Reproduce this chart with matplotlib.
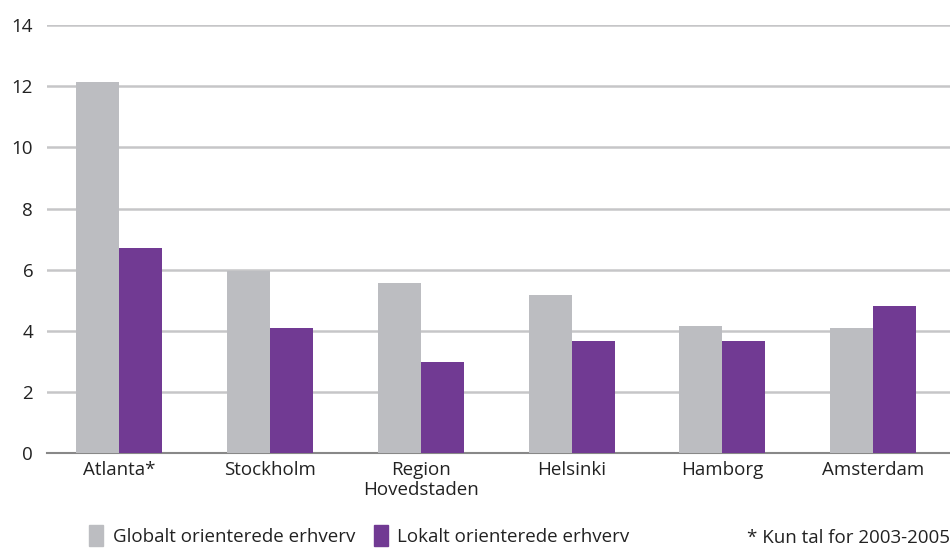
import matplotlib.pyplot as plt
from matplotlib.patches import Patch
import numpy as np

plt.rcParams['font.family'] = ['Open Sans', 'DejaVu Sans']

cities = ["Atlanta*", "Stockholm", "Region\nHovedstaden", "Helsinki", "Hamborg", "Amsterdam"]
globalt = [12.15, 5.97, 5.57, 5.18, 4.15, 4.1]
lokalt = [6.72, 4.1, 2.98, 3.67, 3.67, 4.82]
yticks = [0, 2, 4, 6, 8, 10, 12, 14]

grey = "#bcbdc1"
purple = "#713a93"
fs = 13.5

fig = plt.figure(figsize=(9.5, 5.48), dpi=100)
ax = fig.add_axes([0.0495, 0.1734, 0.9505, 0.7806])

x = np.arange(len(cities))
w = 0.285
ax.bar(x - w / 2, globalt, w, color=grey, zorder=3)
ax.bar(x + w / 2, lokalt, w, color=purple, zorder=3)

ax.set_ylim(0, 14)
ax.set_xlim(-0.48, 5.51)
ax.set_yticks(yticks)
ax.set_xticks(x)
ax.set_xticklabels(cities, fontsize=fs, color="#222222", linespacing=1.15)
ax.tick_params(axis="y", length=0, pad=10, labelsize=fs, labelcolor="#222222")
ax.tick_params(axis="x", length=0, pad=6)
ax.grid(axis="y", color="#c6c6c8", linewidth=1.8, zorder=0)
for s in ["top", "right", "left"]:
    ax.spines[s].set_visible(False)
ax.spines["bottom"].set_color("#888888")
ax.spines["bottom"].set_linewidth(1.5)

handles = [Patch(color=grey, label="Globalt orienterede erhverv"),
           Patch(color=purple, label="Lokalt orienterede erhverv")]
fig.legend(handles=handles, loc="lower left", bbox_to_anchor=(0.076, -0.027), ncol=2,
           frameon=False, fontsize=fs, handlelength=0.75, handleheight=1.3,
           handletextpad=0.5, columnspacing=1.0, labelcolor="#222222")
fig.text(0.9995, 0.002, "* Kun tal for 2003-2005", ha="right", va="bottom",
         fontsize=fs, color="#222222")

fig.savefig("out.png", dpi=100)
